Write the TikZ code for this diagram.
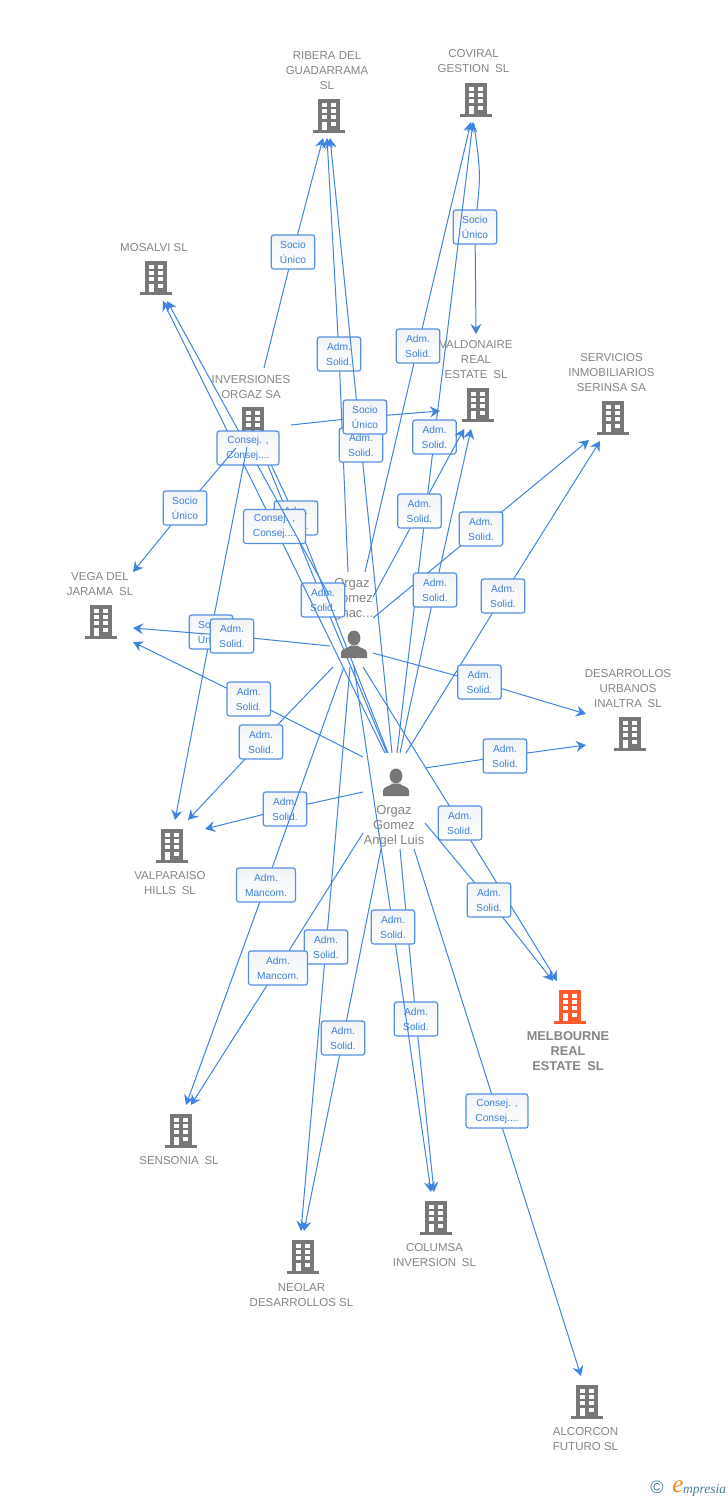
\documentclass[tikz,border=0pt]{standalone}
\usepackage{fontspec}
\setmainfont{Liberation Sans}
\newfontfamily\logofont{Liberation Serif}
\usetikzlibrary{arrows.meta}
\definecolor{edgeblue}{HTML}{3F84E0}
\definecolor{boxline}{HTML}{5590E2}
\definecolor{boxtext}{HTML}{3D7FDA}
\definecolor{boxtop}{HTML}{F1F3F6}
\definecolor{lblgrey}{HTML}{858585}
\definecolor{icongrey}{HTML}{777777}
\definecolor{iconorange}{HTML}{FF5A2B}
\definecolor{logoteal}{HTML}{4B7F98}
\definecolor{logoorange}{HTML}{F08A1D}
\tikzset{
  conn/.style={draw=edgeblue,line width=1pt,-{Stealth[length=10pt,width=11pt,inset=3.5pt]}},
  lbox/.style={draw=boxline,line width=1.2pt,rounded corners=2.5pt,top color=boxtop,bottom color=white,
    minimum width=43.5pt,minimum height=34pt,inner sep=0pt,align=center,text=boxtext,
    font=\fontsize{10.2}{15}\selectfont},
  lboxw/.style={lbox,minimum width=62pt},
  lboxm/.style={lbox,minimum width=59pt},
  cname/.style={align=center,text=lblgrey,inner sep=0pt,yshift=-0.8pt,font=\fontsize{11.5}{15}\selectfont},
  cmain/.style={align=center,text=lblgrey,inner sep=0pt,yshift=-0.8pt,font=\bfseries\fontsize{12.8}{15}\selectfont},
  pname/.style={align=center,text=lblgrey,inner sep=0pt,yshift=-0.8pt,font=\fontsize{13}{15}\selectfont},
  pics/building/.style={code={
    \fill[#1] (-11,-17) rectangle (11,14.5);
    \fill[#1] (-16,14) rectangle (16,17);
    \foreach \cx in {-7.3,2.4}{\foreach \cy in {-12.9,-6.6,-0.2}{
      \fill[white] (\cx,\cy) rectangle ++(4.9,4.1);}}
    \fill[white] (-7.3,6.2) rectangle ++(4.9,7.8);
    \fill[white] (2.4,6.2) rectangle ++(4.9,4.4);
  }},
  pics/person/.style={code={
    \fill[icongrey] (0,-6.5) ellipse (6.4 and 7.5);
    \fill[icongrey] (-13,13.5) -- (-13,8) .. controls (-13,4) and (-5,3.5) .. (-3.5,1) -- (3.5,1)
      .. controls (5,3.5) and (13,4) .. (13,8) -- (13,13.5) -- cycle;
  }}
}
\newcommand{\lnk}[7][conn]{%
  \coordinate (m#2) at (#3);
  \draw[#1] (#6) -- (m#2) -- (#7);
  \node[#4] (#2) at (m#2) {#5};
}
\begin{document}
\begin{tikzpicture}[x=1pt,y=-1pt]
\useasboundingbox (0,0) rectangle (728,1500);
\fill[white] (0,0) rectangle (728,1500);

% company labels
\node[cname] (tRib) at (327,70) {RIBERA DEL\\GUADARRAMA\\SL};
\node[cname] (tCov) at (473.5,60.5) {COVIRAL\\GESTION\enspace SL};
\node[cname] (tMos) at (154,247) {MOSALVI SL};
\node[cname] (tVal) at (476,359) {VALDONAIRE\\REAL\\ESTATE\enspace SL};
\node[cname] (tSer) at (611.5,372) {SERVICIOS\\INMOBILIARIOS\\SERINSA SA};
\node[cname] (tInv) at (251,386.5) {INVERSIONES\\ORGAZ SA};
\node[cname] (tVeg) at (100,583.5) {VEGA DEL\\JARAMA\enspace SL};
\node[cname] (tDes) at (628,688) {DESARROLLOS\\URBANOS\\INALTRA\enspace SL};
\node[cname] (tVap) at (170,882.5) {VALPARAISO\\HILLS\enspace SL};
\node[cmain] (tMel) at (568,1050) {MELBOURNE\\REAL\\ESTATE\enspace SL};
\node[cname] (tSen) at (179,1160) {SENSONIA\enspace SL};
\node[cname] (tCol) at (434.5,1254.5) {COLUMSA\\INVERSION\enspace SL};
\node[cname] (tNeo) at (301.5,1294.5) {NEOLAR\\DESARROLLOS SL};
\node[cname] (tAlc) at (585.5,1438.5) {ALCORCON\\FUTURO SL};
\node[pname] (tIgn) at (352,598) {Orgaz\\Gomez\\Ignac...};
\node[pname] (tLui) at (394,825) {Orgaz\\Gomez\\Angel Luis};

% building icons
\pic (bRib) at (329,115.5) {building=icongrey};
\pic (bCov) at (476,99.5) {building=icongrey};
\pic (bMos) at (156,277.5) {building=icongrey};
\pic (bVal) at (478,404.5) {building=icongrey};
\pic (bSer) at (613,417.5) {building=icongrey};
\pic (bInv) at (253,423.5) {building=icongrey};
\pic (bVeg) at (101,621.5) {building=icongrey};
\pic (bDes) at (630,733.5) {building=icongrey};
\pic (bVap) at (172,845.5) {building=icongrey};
\pic (bMel) at (570,1006.5) {building=iconorange};
\pic (bSen) at (181,1130.5) {building=icongrey};
\pic (bCol) at (436,1217.5) {building=icongrey};
\pic (bNeo) at (303,1256.5) {building=icongrey};
\pic (bAlc) at (587,1401.5) {building=icongrey};

% connector ends
\foreach \nm/\pos in {
  ribA/{323,138},ribB/{327,138},ribC/{330,138},
  covA/{471,122},covB/{473,122},covC/{474,124},
  valA/{476,334},valB/{440,411},valC/{464,429},valD/{471,429},
  serA/{589,440},serB/{600,441},
  desA/{586,714},desB/{586,745},
  melA/{557,981},melB/{553,981},
  alcA/{581,1376},colA/{434,1192},colB/{431,1192},
  neoA/{304,1231},neoB/{301,1231},
  senA/{186,1105},senB/{191,1105},
  vapA/{205,829},vapB/{188,820},vapC/{175,820},
  vegA/{133,642},vegB/{133,628},vegC/{133,572},
  mosA/{163,301},mosB/{167,301},
  invA/{258,441},invB/{262,445},
  invTop/{264,368},invRight/{291,425},invLeft/{236,448},invDown/{247,447},
  luA/{392,753},luB/{397,753},luC/{400,753},luD/{406,753},luE/{425,768},luF/{425,823},
  luG/{414,849},luH/{400,849},luI/{381,849},luJ/{363,833},luK/{363,792},luL/{363,757},
  luM/{385,753},luN/{387,753},luO/{388,753},
  igA/{348,572},igB/{365,572},igC/{373,597},igD/{373,618},igE/{373,653},igF/{363,667},
  igG/{354,667},igH/{350,667},igI/{344,667},igJ/{333,667},igK/{330,646},igL/{329,595},
  curveB/{481,175}}
  {\coordinate (\nm) at (\pos);}

% connectors with their label boxes, lowest first
\lnk{bA}{293,252}{lbox}{Socio\\Único}{invTop}{ribA}
\coordinate (mbB) at (475,227);
\draw[draw=edgeblue,line width=1pt] (covC) .. controls (curveB) .. (mbB);
\draw[conn] (mbB) -- (valA);
\node[lbox] (bB) at (mbB) {Socio\\Único};
\lnk{bC}{339,354}{lbox}{Adm.\\Solid.}{igA}{ribB}
\lnk{bD}{361,445}{lbox}{Adm.\\Solid.}{luA}{ribC}
\lnk{bE}{418,346}{lbox}{Adm.\\Solid.}{igB}{covA}
\lnk{bG}{434.5,437}{lbox}{Adm.\\Solid.}{luB}{covB}
\lnk{bSo}{365,417}{lbox}{Socio\\Único}{invRight}{valB}
\lnk{bF}{419.5,511}{lbox}{Adm.\\Solid.}{igC}{valC}
\lnk{bI}{481,529}{lbox}{Adm.\\Solid.}{igD}{serA}
\lnk{bH}{435,590}{lbox}{Adm.\\Solid.}{luC}{valD}
\lnk{bJ}{503,596}{lbox}{Adm.\\Solid.}{luD}{serB}
\lnk{bK}{479.5,682}{lbox}{Adm.\\Solid.}{igE}{desA}
\lnk{bL}{505,756}{lbox}{Adm.\\Solid.}{luE}{desB}
\lnk{bM}{460,823}{lbox}{Adm.\\Solid.}{igF}{melA}
\lnk{bN}{489,900}{lbox}{Adm.\\Solid.}{luF}{melB}
\lnk{bO}{497,1111}{lboxw}{Consej. ,\\Consej....}{luG}{alcA}
\lnk{bP}{416,1019}{lbox}{Adm.\\Solid.}{luH}{colA}
\lnk{bQ}{393,927}{lbox}{Adm.\\Solid.}{igG}{colB}
\lnk{bR}{343,1038}{lbox}{Adm.\\Solid.}{luI}{neoA}
\lnk{bS}{326,947}{lbox}{Adm.\\Solid.}{igH}{neoB}
\lnk{bV}{285,809}{lbox}{Adm.\\Solid.}{luK}{vapA}
\lnk{bU}{278,968}{lboxm}{Adm.\\Mancom.}{luJ}{senB}
\lnk{bT}{266,885}{lboxm}{Adm.\\Mancom.}{igI}{senA}
\lnk{bW}{261,742}{lbox}{Adm.\\Solid.}{igJ}{vapB}
\lnk{bX}{248.7,699}{lbox}{Adm.\\Solid.}{luL}{vegA}
\lnk{bL2}{323,600}{lbox}{Adm.\\Solid.}{luN}{invA}
\lnk{bL4}{296,518}{lbox}{Adm.\\Solid.}{luO}{invB}
\lnk{bL1}{274.5,526.5}{lboxw}{Consej. ,\\Consej....}{luM}{mosA}
\lnk{bL3}{248,448}{lboxw}{Consej. ,\\Consej....}{igL}{mosB}
\lnk{bSv}{185,508}{lbox}{Socio\\Único}{invLeft}{vegC}
\lnk{bZ}{211,632}{lbox}{Socio\\Único}{invDown}{vapC}
\lnk{bY}{232,636}{lbox}{Adm.\\Solid.}{igK}{vegB}

% person icons
\pic (pIgn) at (354,644.5) {person};
\pic (pLui) at (396,782.5) {person};

% logo
\node[inner sep=0pt,text=logoteal,font=\fontsize{18}{18}\selectfont] (logoC) at (657,1487.5) {©};
\node[inner sep=0pt,text=logoorange,font=\logofont\itshape\fontsize{25}{25}\selectfont] (logoE) at (678,1487) {e};
\node[inner sep=0pt,text=logoteal,anchor=base west,font=\logofont\itshape\fontsize{13.5}{13.5}\selectfont] (logoT) at (683,1493) {mpresia};
\end{tikzpicture}
\end{document}
